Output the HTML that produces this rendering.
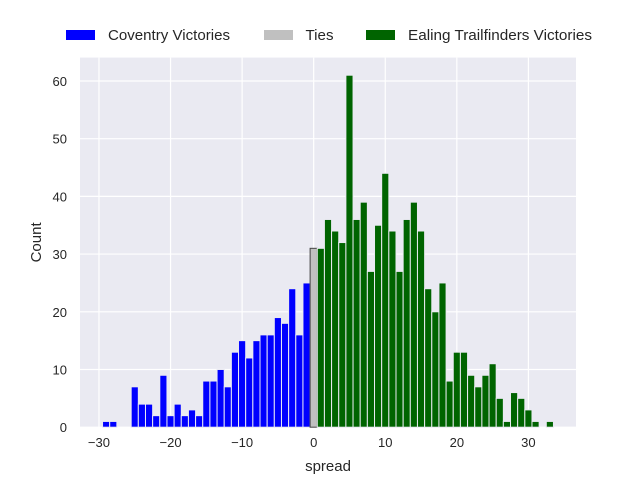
<!DOCTYPE html>
<html><head><meta charset="utf-8"><style>
body{margin:0;background:#fff;}
svg{display:block;font-family:"Liberation Sans","DejaVu Sans",sans-serif;}
</style></head><body>
<svg id="chart" width="640" height="480">
<g id="legend">
<g><rect x="66" y="30" width="29" height="10" fill="#0000ff"/><text x="108" y="40" font-size="15" fill="#262626" textLength="122" lengthAdjust="spacingAndGlyphs">Coventry Victories</text></g>
<g><rect x="264" y="30" width="29" height="10" fill="#c0c0c0"/><text x="305.5" y="40" font-size="15" fill="#262626" textLength="28" lengthAdjust="spacingAndGlyphs">Ties</text></g>
<g><rect x="366" y="30" width="29" height="10" fill="#006400"/><text x="408" y="40" font-size="15" fill="#262626" textLength="184" lengthAdjust="spacingAndGlyphs">Ealing Trailfinders Victories</text></g>
</g>
</svg>
<script>
const covBins=[-29,-28,-27,-26,-25,-24,-23,-22,-21,-20,-19,-18,-17,-16,-15,-14,-13,-12,-11,-10,-9,-8,-7,-6,-5,-4,-3,-2,-1];
const covCounts=[1,1,0,0,7,4,4,2,9,2,4,2,3,2,8,8,10,7,13,15,12,15,16,16,19,18,24,16,25];
const tieBins=[0];
const tieCounts=[31];
const ealBins=[1,2,3,4,5,6,7,8,9,10,11,12,13,14,15,16,17,18,19,20,21,22,23,24,25,26,27,28,29,30,31,32,33];
const ealCounts=[31,36,34,32,61,36,39,27,35,44,34,27,36,39,34,24,20,25,8,13,13,9,7,9,11,5,1,6,5,3,1,0,1];
const xTicks=[-30,-20,-10,0,10,20,30];
const yTicks=[0,10,20,30,40,50,60];

const L=80,R=576,T=57.6,B=427.2,xmin=-32.65,xmax=36.65,ymax=64.05;
const sx=v=>L+(v-xmin)/(xmax-xmin)*(R-L);
const sy=v=>B-v/ymax*(B-T);
const svg=document.getElementById('chart');
const NS='http://www.w3.org/2000/svg';
function mk(tag,attrs,parent){const e=document.createElementNS(NS,tag);for(const k in attrs)e.setAttribute(k,attrs[k]);(parent||svg).appendChild(e);return e;}
const bg=mk('rect',{x:L,y:T,width:R-L,height:B-T,fill:'#eaeaf2'});


xTicks.forEach(t=>{
  const g=mk('line',{x1:sx(t),x2:sx(t),y1:T,y2:B,stroke:'#fff','stroke-width':1.2});
  
  
  const tx=mk('text',{x:sx(t),y:B+20,'font-size':13,'text-anchor':'middle',fill:'#262626'});
  tx.textContent=(t<0?'\u2212'+(-t):t);
  
  
});
yTicks.forEach(t=>{
  const g=mk('line',{x1:L,x2:R,y1:sy(t),y2:sy(t),stroke:'#fff','stroke-width':1.2});
  
  
  const tx=mk('text',{x:L-13,y:sy(t)+5,'font-size':13,'text-anchor':'end',fill:'#262626'});
  tx.textContent=t;
  
  
});
function bars(bins,counts,color,stroke,name){
  bins.forEach((b,i)=>{
    if(!counts[i])return;
    const x0=sx(b-0.5),x1=sx(b+0.5);
    const r=mk('rect',{x:x0,y:sy(counts[i]),width:x1-x0,height:B-sy(counts[i]),fill:color,stroke:stroke,'stroke-width':1});
    
    
  });
}
bars(covBins,covCounts,'#0000ff','#eaeaf2','bar-coventry');
bars(tieBins,tieCounts,'#c0c0c0','#444','bar-tie');
bars(ealBins,ealCounts,'#006400','#eaeaf2','bar-ealing');
const xl=mk('text',{x:(L+R)/2,y:471,'font-size':15,'text-anchor':'middle',fill:'#262626'});
xl.textContent='spread';


const yl=mk('text',{x:41,y:(T+B)/2,'font-size':15,'text-anchor':'middle',fill:'#262626',transform:`rotate(-90 41 ${(T+B)/2})`});
yl.textContent='Count';


</script>
</body></html>
